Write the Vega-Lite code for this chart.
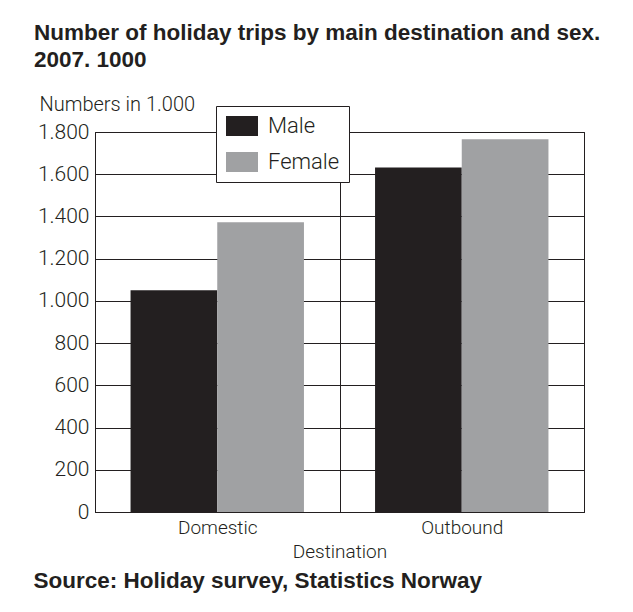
{
  "$schema": "https://vega.github.io/schema/vega-lite/v6.json",
  "padding": {"left": 33, "top": 21, "right": 10, "bottom": 5},
  "autosize": {"type": "pad"},
  "background": "white",
  "title": {
    "text": "Source: Holiday survey, Statistics Norway",
    "orient": "bottom",
    "anchor": "start",
    "frame": "bounds",
    "offset": 8,
    "font": "Liberation Sans",
    "fontSize": 22.5,
    "fontWeight": "bold",
    "color": "#231f20"
  },
  "vconcat": [
    {
      "title": {
        "text": ["Number of holiday trips by main destination and sex.", "2007. 1000"],
        "anchor": "start",
        "frame": "group",
        "dx": -61,
        "offset": 23,
        "font": "Liberation Sans",
        "fontSize": 22.5,
        "fontWeight": "bold",
        "lineHeight": 27,
        "color": "#231f20"
      },
      "width": 489,
      "height": 380,
      "data": {
        "values": [
          {"destination": "Domestic", "sex": "Male", "trips": 1050},
          {"destination": "Domestic", "sex": "Female", "trips": 1372},
          {"destination": "Outbound", "sex": "Male", "trips": 1632},
          {"destination": "Outbound", "sex": "Female", "trips": 1766}
        ]
      },
      "mark": {"type": "bar"},
      "encoding": {
        "x": {
          "field": "destination",
          "type": "nominal",
          "sort": ["Domestic", "Outbound"],
          "scale": {"paddingInner": 0, "paddingOuter": 0},
          "axis": {
            "title": "Destination",
            "labelAngle": 0,
            "ticks": false,
            "tickBand": "extent",
            "grid": true,
            "labelPadding": 6,
            "titlePadding": 5
          }
        },
        "xOffset": {
          "field": "sex",
          "type": "nominal",
          "sort": ["Male", "Female"],
          "scale": {"paddingInner": 0, "paddingOuter": 0.41}
        },
        "y": {
          "field": "trips",
          "type": "quantitative",
          "scale": {"domain": [0, 1800], "nice": false},
          "axis": {
            "values": [0, 200, 400, 600, 800, 1000, 1200, 1400, 1600, 1800],
            "title": "Numbers in 1.000",
            "titleAngle": 0,
            "titleAlign": "left",
            "titleBaseline": "alphabetic",
            "titleX": -56,
            "titleY": -22,
            "ticks": false,
            "labelPadding": 6,
            "labelExpr": "replace(format(datum.value, ','), ',', '.')",
            "grid": true
          }
        },
        "color": {
          "field": "sex",
          "type": "nominal",
          "sort": ["Male", "Female"],
          "scale": {"domain": ["Male", "Female"], "range": ["#231f20", "#a0a1a3"]},
          "legend": {
            "orient": "none",
            "legendX": 121,
            "legendY": -26,
            "title": null,
            "strokeColor": "#231f20",
            "fillColor": "white",
            "padding": 9,
            "symbolType": "M-1,-1L2.2,-1L2.2,1L-1,1Z",
            "symbolSize": 400,
            "symbolStrokeWidth": 0,
            "symbolOpacity": 1,
            "labelFontSize": 22,
            "labelOffset": 21,
            "rowPadding": 14,
            "labelFont": "Roboto",
            "labelFontWeight": 300,
            "labelColor": "#231f20"
          }
        }
      }
    }
  ],
  "config": {
    "font": "Roboto",
    "view": {"stroke": "#231f20", "strokeWidth": 1},
    "axis": {
      "labelFont": "Roboto",
      "labelFontWeight": 300,
      "labelColor": "#231f20",
      "titleFont": "Roboto",
      "titleFontWeight": 300,
      "titleColor": "#231f20",
      "domainColor": "#231f20",
      "gridColor": "#231f20",
      "gridOpacity": 1,
      "gridWidth": 1
    },
    "axisY": {"labelFontSize": 21, "titleFontSize": 20},
    "axisX": {"labelFontSize": 19, "titleFontSize": 19}
  }
}
